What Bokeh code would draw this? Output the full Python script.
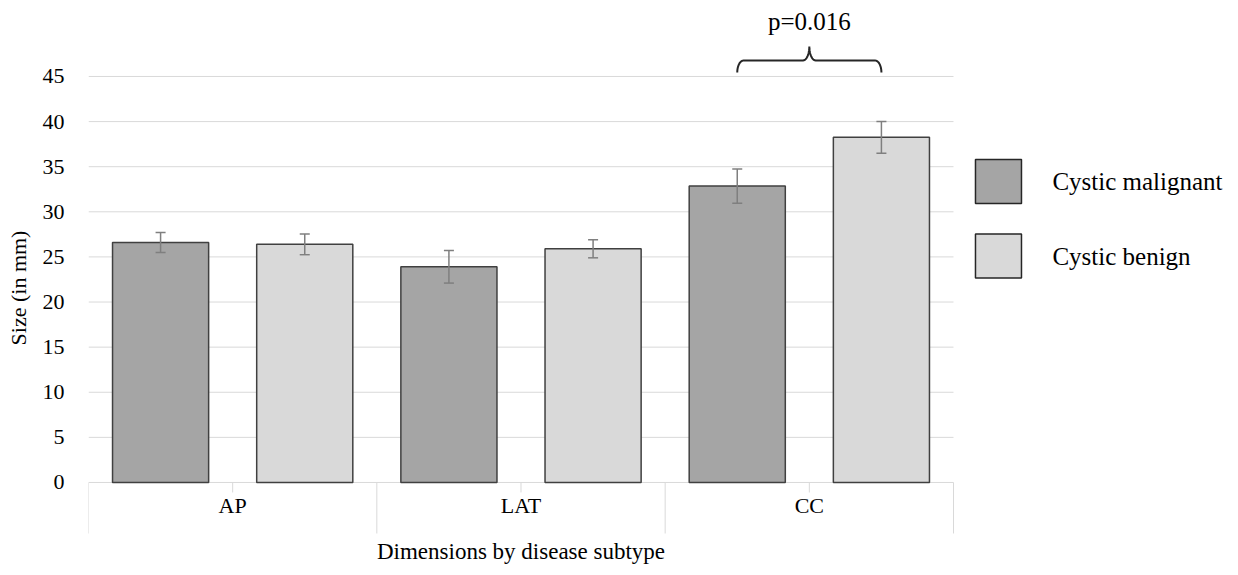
import numpy as np
from bokeh.plotting import figure
from bokeh.models import (ColumnDataSource, Range1d, LinearAxis, FixedTicker, Whisker, TeeHead)
from bokeh.embed import file_html
from bokeh.resources import INLINE
from bokeh.core.properties import value

# ---------------- data ----------------
categories = ["AP", "LAT", "CC"]
series = ["Cystic malignant", "Cystic benign"]
malignant = [26.6, 23.9, 32.85]
benign = [26.4, 25.9, 38.25]
malignant_err = [1.1, 1.8, 1.9]
benign_err = [1.15, 1.0, 1.75]
y_ticks = [0, 5, 10, 15, 20, 25, 30, 35, 40, 45]
p_text = "p=0.016"
x_title = "Dimensions by disease subtype"
y_title = "Size (in mm)"

# ---------------- style ----------------
FONT = "Liberation Serif"
C_MAL = "#a5a5a5"
C_BEN = "#d9d9d9"
C_EDGE = "#404040"
C_GRID = "#d9d9d9"
C_ERR = "#7f7f7f"

n = len(categories)
offsets = [-0.25, 0.25]
bar_w = 1 / 3
PX = 9.022  # px per mm in y (used only for positioning the axis decorations)

p = figure(width=1238, height=575, x_range=Range1d(0, 3.98844), y_range=Range1d(-10.31, 53.42),
           output_backend="svg", toolbar_location=None, x_axis_type=None, y_axis_type=None,
           min_border_left=88, min_border_right=0, min_border_top=0, min_border_bottom=0)
p.outline_line_color = None
p.background_fill_color = "white"

# horizontal grid lines (limited to the category area)
grid_src = ColumnDataSource(dict(y=y_ticks, x0=[0] * len(y_ticks), x1=[n] * len(y_ticks)))
p.segment(x0="x0", x1="x1", y0="y", y1="y", source=grid_src, line_color=C_GRID, line_width=1,
          level="underlay")

# category axis: separators, centre ticks, labels, title
cx = np.arange(n) + 0.5
sep_src = ColumnDataSource(dict(x=list(range(n + 1)), y0=[0] * (n + 1), y1=[-51 / PX] * (n + 1)))
p.segment(x0="x", x1="x", y0="y0", y1="y1", source=sep_src, line_color=C_GRID, line_width=1)
tick_src = ColumnDataSource(dict(x=cx, y0=[0] * n, y1=[-10 / PX] * n, label=categories,
                                 ly=[-23 / PX] * n))
p.segment(x0="x", x1="x", y0="y0", y1="y1", source=tick_src, line_color=C_GRID, line_width=1)
p.text(x="x", y="ly", text="label", source=tick_src, text_align="center", text_baseline="middle",
       text_font=value(FONT), text_font_size="22px", text_color="black")
p.text(x=[n / 2], y=[-69 / PX], text=[x_title], text_align="center", text_baseline="middle",
       text_font=value(FONT), text_font_size="23px", text_color="black")

# bars and error bars
vals = [malignant, benign]
errs = [malignant_err, benign_err]
cols = [C_MAL, C_BEN]
for k in range(2):
    src = ColumnDataSource(dict(x=cx + offsets[k], top=vals[k],
                                upper=np.array(vals[k]) + np.array(errs[k]),
                                lower=np.array(vals[k]) - np.array(errs[k])))
    p.vbar(x="x", top="top", bottom=0, width=bar_w, source=src, fill_color=cols[k],
           line_color=C_EDGE, line_width=1.5)
    w = Whisker(base="x", upper="upper", lower="lower", source=src, line_color=C_ERR, line_width=1.5,
                upper_head=TeeHead(size=10, line_color=C_ERR, line_width=1.5),
                lower_head=TeeHead(size=10, line_color=C_ERR, line_width=1.5), level="overlay")
    p.add_layout(w)

# y axis
yaxis = LinearAxis(ticker=FixedTicker(ticks=y_ticks, minor_ticks=[]), bounds=(0, 45))
yaxis.axis_line_color = None
yaxis.major_tick_line_color = None
yaxis.minor_tick_line_color = None
yaxis.major_label_standoff = 18
yaxis.major_label_text_font = FONT
yaxis.major_label_text_font_size = "22px"
yaxis.major_label_text_color = "black"
yaxis.axis_label = y_title
yaxis.axis_label_text_font = FONT
yaxis.axis_label_text_font_size = "22px"
yaxis.axis_label_text_font_style = "normal"
yaxis.axis_label_text_color = "black"
yaxis.axis_label_standoff = 9
p.add_layout(yaxis, "left")

# significance brace between the two CC bars
xl = cx[2] + offsets[0]
xr = cx[2] + offsets[1]
xm = cx[2]
y_base, y_line, y_tip = 45.44, 46.77, 48.33
r = 0.022
t = np.linspace(0, np.pi / 2, 12)
left_x = np.concatenate([xl + r - r * np.cos(t), xm - r + r * np.sin(t)])
left_y = np.concatenate([y_base + (y_line - y_base) * np.sin(t), y_tip - (y_tip - y_line) * np.cos(t)])
bx = np.concatenate([left_x, (2 * xm - left_x)[::-1]])
by = np.concatenate([left_y, left_y[::-1]])
p.line(bx, by, line_color="#262626", line_width=2)
p.text(x=[xm], y=[51.04], text=[p_text], text_align="center", text_baseline="middle",
       text_font=value(FONT), text_font_size="25px", text_color="black")

# legend (drawn to the right of the category area)
leg_src = ColumnDataSource(dict(x=[3.156, 3.156], y=[33.36, 25.1], color=cols, label=series,
                                tx=[3.343, 3.343]))
p.rect(x="x", y="y", width=46, height=44, width_units="screen", height_units="screen",
       fill_color="color", line_color="#262626", line_width=1.5, source=leg_src)
p.text(x="tx", y="y", text="label", text_align="left", text_baseline="middle",
       text_font=value(FONT), text_font_size="25px", text_color="black", source=leg_src)

open("out.html", "w").write(file_html(p, INLINE))
